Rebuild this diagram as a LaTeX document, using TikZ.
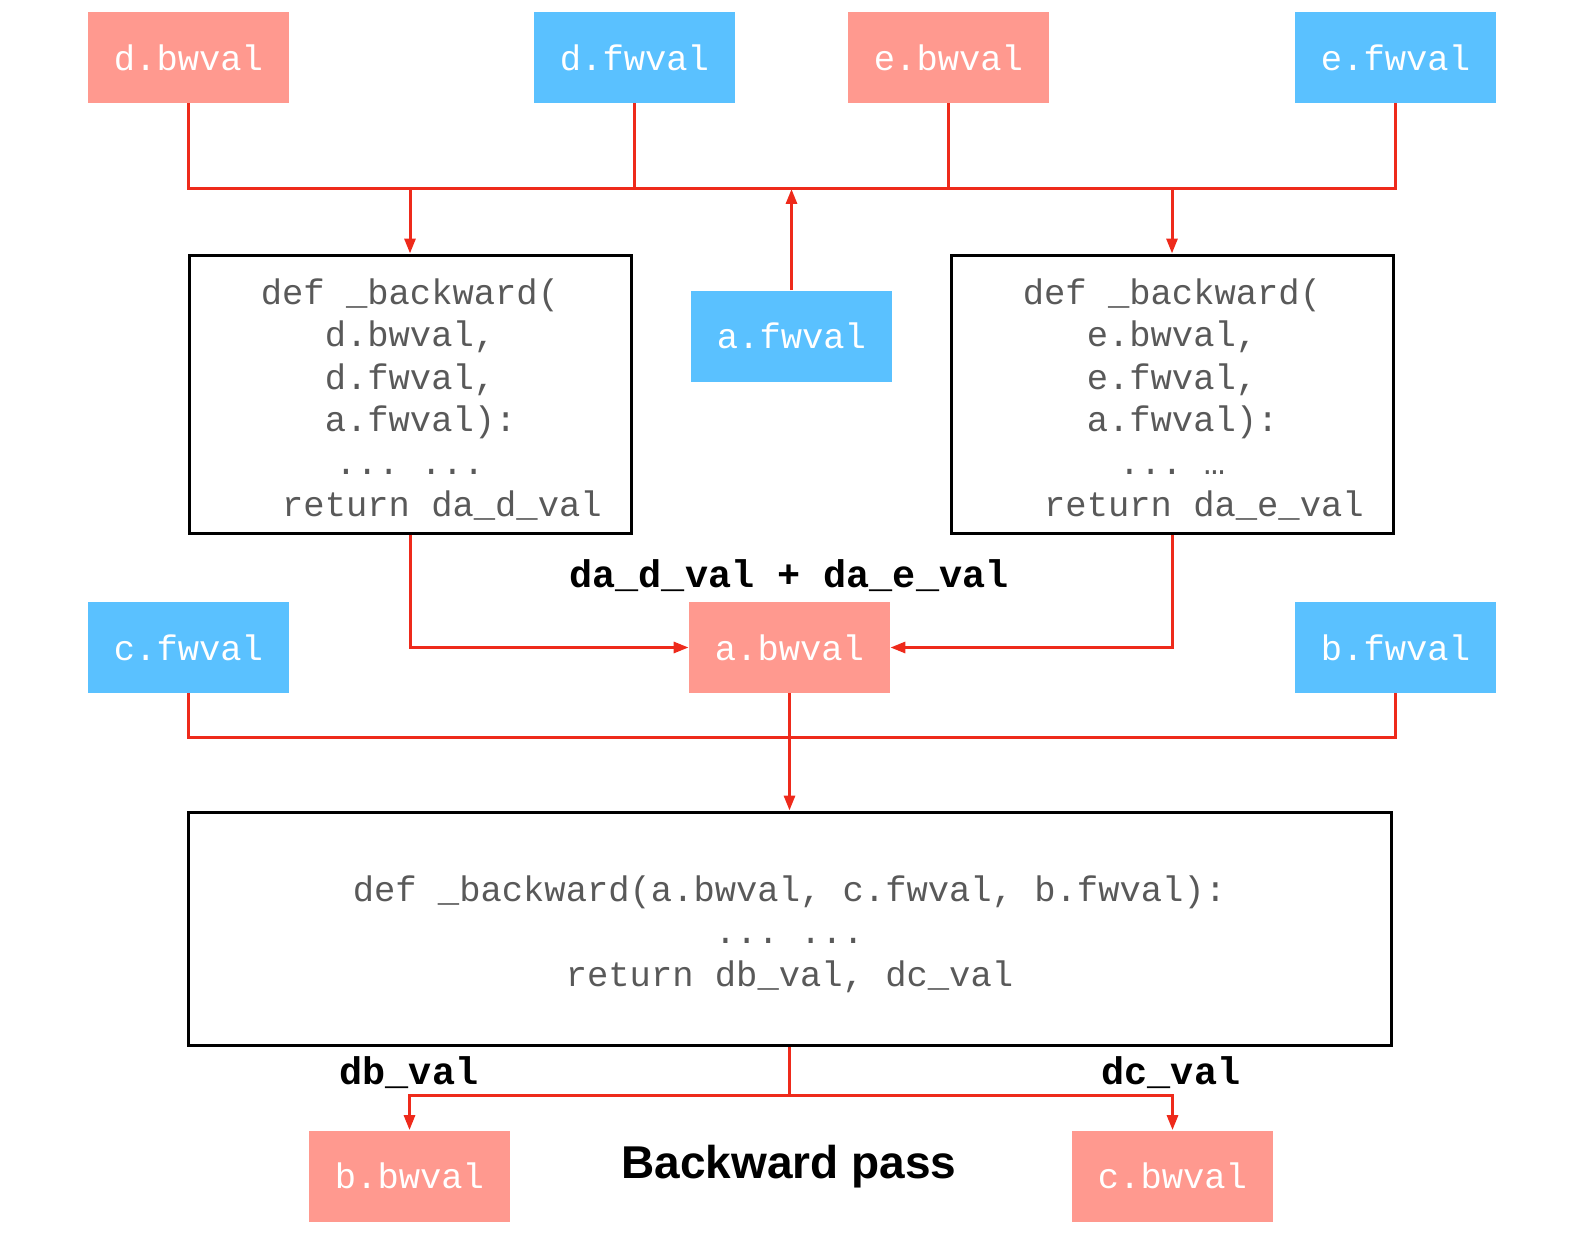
\documentclass[tikz,border=0pt]{standalone}
\usepackage{fontspec}
\setmonofont{Liberation Mono}
\setsansfont{Liberation Sans}
\usetikzlibrary{arrows.meta}

\begin{document}
\begin{tikzpicture}[x=0.5pt,y=-0.5pt,
  >={Triangle[length=7.5pt,width=5.5pt]},
  valbox/.style={minimum width=100.5pt,minimum height=45.5pt,inner sep=0pt,text=white,font=\ttfamily\fontsize{17.75pt}{21.25pt}\selectfont},
  fwbox/.style={valbox,fill=cfw},
  bwbox/.style={valbox,fill=cbw},
  codebox/.style={draw=black,line width=1.5pt,inner sep=0pt,align=center,text=ccode,font=\ttfamily\fontsize{17.75pt}{21.25pt}\selectfont},
  outlbl/.style={inner sep=0pt,font=\ttfamily\bfseries\fontsize{19.25pt}{23pt}\selectfont},
  title/.style={inner sep=0pt,font=\sffamily\bfseries\fontsize{23pt}{27pt}\selectfont},
  wire/.style={draw=cwire,line width=1.5pt}]
\definecolor{cfw}{RGB}{90,193,255}
\definecolor{cbw}{RGB}{255,153,143}
\definecolor{cwire}{RGB}{238,42,27}
\definecolor{ccode}{RGB}{89,89,89}
\newcommand{\toppad}{\rule{0pt}{18.5pt}}
\useasboundingbox (0,0) rectangle (1570,1236);
%
\node[bwbox] (dbw) at (188.5,57.5) {d.bwval};
\node[fwbox] (dfw) at (634.5,57.5) {d.fwval};
\node[bwbox] (ebw) at (948.5,57.5) {e.bwval};
\node[fwbox] (efw) at (1395.5,57.5) {e.fwval};
\node[codebox,minimum width=221pt,minimum height=139pt] (dcode) at (410,394) {\toppad def \_backward(\\d.bwval,\\d.fwval,\\\hphantom{x}a.fwval):\\... ...\\\hphantom{xxx}return da\_d\_val};
\node[fwbox] (afw) at (791.5,336) {a.fwval};
\node[codebox,minimum width=221pt,minimum height=139pt] (ecode) at (1172,394) {\toppad def \_backward(\\e.bwval,\\e.fwval,\\\hphantom{x}a.fwval):\\... …\\\hphantom{xxx}return da\_e\_val};
\node[bwbox] (abw) at (789.5,647.5) {a.bwval};
\node[fwbox] (cfw) at (188.5,647.5) {c.fwval};
\node[fwbox] (bfw) at (1395.5,647.5) {b.fwval};
\node[codebox,minimum width=601.5pt,minimum height=116.5pt] (acode) at (789.5,928.5) {\toppad def \_backward(a.bwval, c.fwval, b.fwval):\\... ...\\return db\_val, dc\_val};
\node[bwbox] (bbw) at (409.5,1176) {b.bwval};
\node[bwbox] (cbw) at (1172.5,1176) {c.bwval};
\node[outlbl] (sum) at (789,576) {da\_d\_val + da\_e\_val};
\node[outlbl] (dbl) at (409,1073) {db\_val};
\node[outlbl] (dcl) at (1171,1073) {dc\_val};
\node[title] (ttl) at (789,1167) {Backward pass};
%
\coordinate (busT) at (0,189);
\coordinate (busM) at (0,737);
\coordinate (busB) at (0,1095);
%
\draw[wire] (dbw.south) |- (efw.south |- busT) -- (efw.south);
\draw[wire] (dfw.south) -- (dfw.south |- busT);
\draw[wire] (ebw.south) -- (ebw.south |- busT);
\draw[wire,->] (dcode.north |- busT) -- (dcode.north);
\draw[wire,->] (ecode.north |- busT) -- (ecode.north);
\draw[wire,->] (afw.north) -- (afw.north |- busT);
\draw[wire,->] (dcode.south) |- (abw.west);
\draw[wire,->] (ecode.south) |- (abw.east);
\draw[wire] (cfw.south) |- (bfw.south |- busM) -- (bfw.south);
\draw[wire,->] (abw.south) -- (acode.north);
\draw[wire] (acode.south) -- (acode.south |- busB);
\draw[wire,->] (acode.south |- busB) -| (bbw.north);
\draw[wire,->] (acode.south |- busB) -| (cbw.north);
%
\end{tikzpicture}
\end{document}
